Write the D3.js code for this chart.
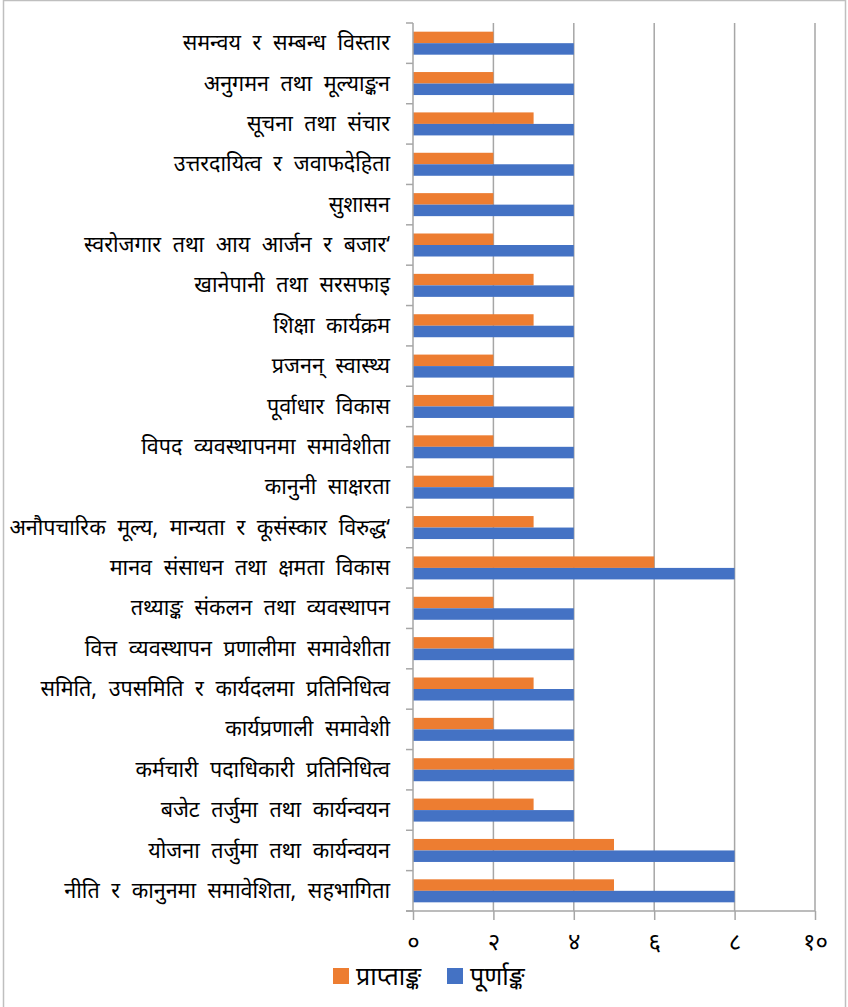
<!DOCTYPE html>
<html>
<head>
<meta charset="utf-8">
<script src="https://cdn.jsdelivr.net/npm/d3@7"></script>
<style>
  body { margin: 0; background: #fff; }
  svg text { font-family: "Noto Sans", sans-serif; fill: #000; }
</style>
</head>
<body>
<div id="chart"></div>
<script>
// categories, top to bottom
const categories = [
    'समन्वय र सम्बन्ध विस्तार',
    'अनुगमन तथा मूल्याङ्कन',
    'सूचना तथा संचार',
    'उत्तरदायित्व र जवाफदेहिता',
    'सुशासन',
    'स्वरोजगार तथा आय आर्जन र बजार‘',
    'खानेपानी तथा सरसफाइ',
    'शिक्षा कार्यक्रम',
    'प्रजनन् स्वास्थ्य',
    'पूर्वाधार विकास',
    'विपद व्यवस्थापनमा समावेशीता',
    'कानुनी साक्षरता',
    'अनौपचारिक मूल्य, मान्यता र कूसंस्कार विरुद्ध‘',
    'मानव संसाधन तथा क्षमता विकास',
    'तथ्याङ्क संकलन तथा व्यवस्थापन',
    'वित्त व्यवस्थापन प्रणालीमा समावेशीता',
    'समिति, उपसमिति र कार्यदलमा प्रतिनिधित्व',
    'कार्यप्रणाली समावेशी',
    'कर्मचारी पदाधिकारी प्रतिनिधित्व',
    'बजेट तर्जुमा तथा कार्यन्वयन',
    'योजना तर्जुमा तथा कार्यन्वयन',
    'नीति र कानुनमा समावेशिता, सहभागिता'
]
const obtained = [2, 2, 3, 2, 2, 2, 3, 3, 2, 2, 2, 2, 3, 6, 2, 2, 3, 2, 4, 3, 5, 5]
const full     = [4, 4, 4, 4, 4, 4, 4, 4, 4, 4, 4, 4, 4, 8, 4, 4, 4, 4, 4, 4, 8, 8]
const seriesNames = ['प्राप्ताङ्क', 'पूर्णाङ्क']
const tickValues = [0, 2, 4, 6, 8, 10]
const tickLabels = ['०', '२', '४', '६', '८', '१०']

const colors = ['#ED7D31', '#4472C4']
const gridColor = '#A6A6A6'

const W = 848, H = 1007
const margin = {top: 23, left: 413, right: 33, bottom: 96}
const plotW = W - margin.left - margin.right
const plotH = H - margin.top - margin.bottom

const svg = d3.select('#chart').append('svg')
    .attr('width', W)
    .attr('height', H)

// outer frame
svg.append('rect')
    .attr('x', 3.5).attr('y', 0.5)
    .attr('width', 842).attr('height', H + 10)
    .attr('fill', 'none')
    .attr('stroke', '#bfbfbf')
    .attr('stroke-width', 1.5)

const g = svg.append('g')
    .attr('transform', 'translate(' + margin.left + ',' + margin.top + ')')

const x = d3.scaleLinear().domain([0, 10]).range([0, plotW])
const y0 = d3.scaleBand().domain(categories).range([0, plotH])
    .paddingInner(0.43).paddingOuter(0.215)
const y1 = d3.scaleBand().domain(seriesNames).range([0, y0.bandwidth()])

// gridlines
g.append('g').selectAll('line')
    .data(tickValues.slice(1))
    .enter().append('line')
    .attr('x1', d => x(d)).attr('x2', d => x(d))
    .attr('y1', 0).attr('y2', plotH)
    .attr('stroke', gridColor)
    .attr('stroke-width', 1.5)

// bars
const rows = categories.map((c, i) => ({cat: c, vals: [obtained[i], full[i]]}))
const grp = g.selectAll('.row')
    .data(rows)
    .enter().append('g')
    .attr('transform', d => 'translate(0,' + y0(d.cat) + ')')

grp.selectAll('rect')
    .data(d => d.vals.map((v, k) => ({name: seriesNames[k], v: v, k: k})))
    .enter().append('rect')
    .attr('x', 0)
    .attr('y', d => y1(d.name))
    .attr('width', d => x(d.v))
    .attr('height', y1.bandwidth())
    .attr('fill', d => colors[d.k])

// y axis line + boundary ticks
const step = y0.step()
const pad = y0.paddingOuter() * step - (step - y0.bandwidth()) / 2
g.append('line')
    .attr('x1', 0).attr('x2', 0)
    .attr('y1', 0).attr('y2', plotH)
    .attr('stroke', gridColor).attr('stroke-width', 1.5)
g.append('g').selectAll('line')
    .data(d3.range(categories.length + 1))
    .enter().append('line')
    .attr('x1', -7).attr('x2', 0)
    .attr('y1', i => i * step + pad).attr('y2', i => i * step + pad)
    .attr('stroke', gridColor).attr('stroke-width', 1.5)

// category labels
g.append('g').selectAll('text')
    .data(categories)
    .enter().append('text')
    .attr('x', -23)
    .attr('y', d => y0(d) + y0.bandwidth() / 2)
    .attr('dy', '0.33em')
    .attr('text-anchor', 'end')
    .style('font-size', '21.5px')
    .style('word-spacing', '6px')
    .text(d => d)

// x axis
const xAxis = g.append('g')
    .attr('transform', 'translate(0,' + plotH + ')')
    .call(d3.axisBottom(x)
        .tickValues(tickValues)
        .tickSize(9)
        .tickSizeOuter(0)
        .tickFormat((d, i) => tickLabels[i]))
xAxis.select('.domain').remove()
xAxis.selectAll('line').attr('stroke', gridColor).attr('stroke-width', 1.5)
xAxis.selectAll('text')
    .attr('y', 22)
    .style('font-size', '24px')
    .style('font-family', '"Noto Sans", sans-serif')
    .attr('fill', '#000')
g.append('line')
    .attr('x1', -7).attr('x2', plotW)
    .attr('y1', plotH).attr('y2', plotH)
    .attr('stroke', gridColor).attr('stroke-width', 1.5)

// legend
const legendX = [333, 447]
const legend = svg.append('g')
    .selectAll('g')
    .data(seriesNames)
    .enter().append('g')
    .attr('transform', (d, i) => 'translate(' + legendX[i] + ',968)')
legend.append('rect')
    .attr('width', 16).attr('height', 16)
    .attr('fill', (d, i) => colors[i])
legend.append('text')
    .attr('x', 23).attr('y', 8)
    .attr('dy', '0.35em')
    .style('font-size', '25px')
    .text(d => d)
</script>
</body>
</html>
